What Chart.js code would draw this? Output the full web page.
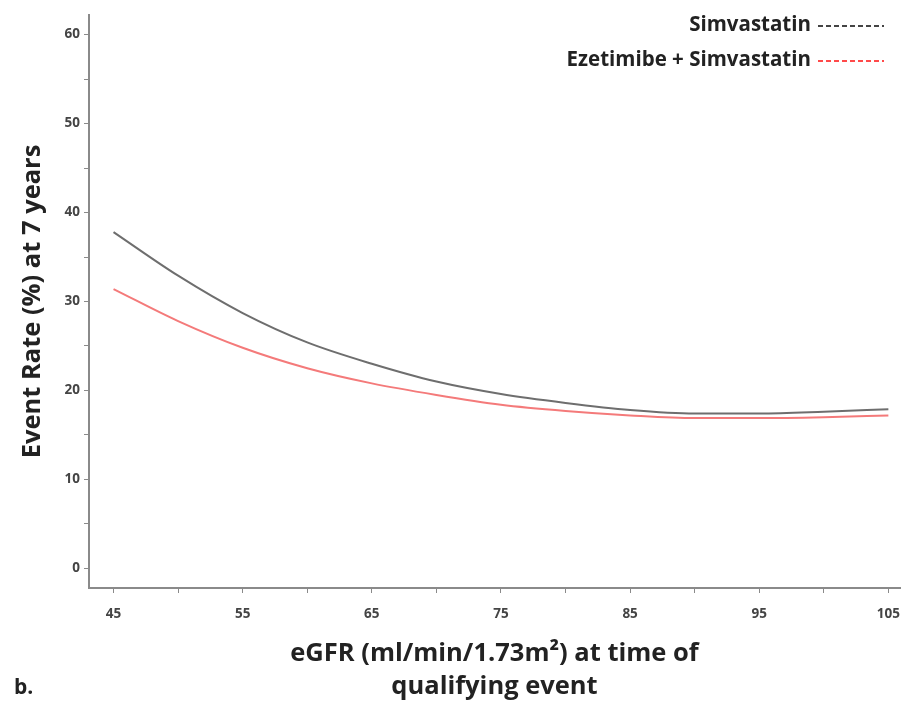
<!DOCTYPE html>
<html>
<head>
<meta charset="utf-8">
<script src="https://cdn.jsdelivr.net/npm/chart.js@4/dist/chart.umd.min.js"></script>
<style>
  body { margin: 0; background: #fff; }
  #wrap { position: relative; width: 906px; height: 707px; }
  .leg { position: absolute; right: 22px; font: bold 20.5px "Open Sans", sans-serif; color: #222; white-space: nowrap; line-height: 26px; }
  .dash { display: inline-block; width: 66px; height: 2px; vertical-align: middle; margin-left: 7px;
          background: repeating-linear-gradient(90deg, #444 0 5px, transparent 5px 8px); }
  .red { background: repeating-linear-gradient(90deg, #ff4a4a 0 5px, transparent 5px 8px); }
  #lbl { position: absolute; left: 14px; top: 672px; font: bold 21px "Open Sans", sans-serif; color: #222; }
</style>
</head>
<body>
<div id="wrap">
  <canvas id="c" width="906" height="707"></canvas>
  <div class="leg" style="top:10px">Simvastatin<span class="dash"></span></div>
  <div class="leg" style="top:45px">Ezetimibe + Simvastatin<span class="dash red"></span></div>
  <div id="lbl">b.</div>
</div>
<script>
const egfr = [45, 50, 55, 60, 65, 70, 75, 80, 85, 90, 95, 100, 105];
const simva = [37.8, 32.9, 28.7, 25.4, 23.0, 21.0, 19.6, 18.6, 17.8, 17.4, 17.4, 17.6, 17.9];
const ezeSimva = [31.4, 27.8, 24.8, 22.5, 20.8, 19.5, 18.4, 17.7, 17.2, 16.9, 16.9, 17.0, 17.2];
const xTicks = [45, 50, 55, 60, 65, 70, 75, 80, 85, 90, 95, 100, 105];
const yTicks = [0, 5, 10, 15, 20, 25, 30, 35, 40, 45, 50, 55, 60];

const pts = arr => egfr.map((x, i) => ({ x: x, y: arr[i] }));
const axisGrey = '#8a8a8a';
const tickFont = { family: 'Open Sans', size: 13.5, weight: 'bold' };

new Chart(document.getElementById('c'), {
  type: 'line',
  data: {
    datasets: [
      { label: 'Simvastatin', data: pts(simva), borderColor: '#6e6e6e', borderWidth: 2, pointRadius: 0, cubicInterpolationMode: 'monotone' },
      { label: 'Ezetimibe + Simvastatin', data: pts(ezeSimva), borderColor: '#f47a7a', borderWidth: 2, pointRadius: 0, cubicInterpolationMode: 'monotone' }
    ]
  },
  options: {
    responsive: false,
    animation: false,
    layout: { padding: { top: 15, right: 6, left: 0, bottom: 0 } },
    plugins: { legend: { display: false }, tooltip: { enabled: false } },
    scales: {
      x: {
        type: 'linear',
        min: 43.1,
        max: 105.9,
        afterBuildTicks: s => { s.ticks = xTicks.map(v => ({ value: v })); },
        afterFit: s => { s.height = 119; s.paddingLeft = 0; s.paddingRight = 0; },
        border: { color: axisGrey, width: 2 },
        grid: { drawOnChartArea: false, color: axisGrey, tickLength: 5 },
        ticks: {
          color: '#444', font: tickFont, padding: 13, maxRotation: 0, autoSkip: false,
          callback: v => ((v - 45) % 10 === 0 ? v : '')
        },
        title: {
          display: true,
          text: ['eGFR (ml/min/1.73m²) at time of', 'qualifying event'],
          color: '#222',
          font: { family: 'Open Sans', size: 25.5, weight: 'bold', lineHeight: 1.3 },
          padding: { top: 4 }
        }
      },
      y: {
        min: -2.2,
        max: 62.2,
        afterBuildTicks: s => { s.ticks = yTicks.map(v => ({ value: v })); },
        afterFit: s => { s.width = 89; s.paddingTop = 0; s.paddingBottom = 0; },
        border: { color: axisGrey, width: 2 },
        grid: { drawOnChartArea: false, color: axisGrey, tickLength: 5 },
        ticks: {
          color: '#444', font: tickFont, padding: 4, autoSkip: false,
          callback: v => (v % 10 === 0 ? v : '')
        },
        title: {
          display: true,
          text: 'Event Rate (%) at 7 years',
          color: '#222',
          font: { family: 'Open Sans', size: 25.5, weight: 'bold' },
          padding: { top: 17, bottom: 0 }
        }
      }
    }
  }
});
</script>
</body>
</html>
